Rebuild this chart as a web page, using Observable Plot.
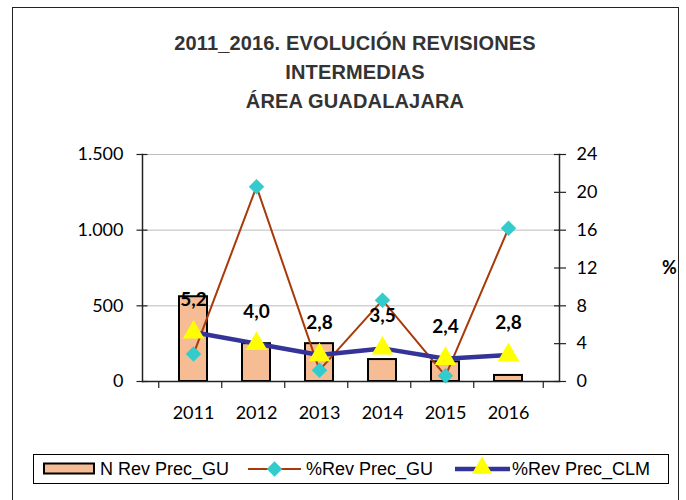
<!DOCTYPE html>
<html><head><meta charset="utf-8">
<script src="https://cdn.jsdelivr.net/npm/d3@7"></script>
<script src="https://cdn.jsdelivr.net/npm/@observablehq/plot@0.6"></script>
<style>
body{margin:0;background:#fff;}
#wrap{position:relative;width:686px;height:500px;overflow:hidden;background:#fff;}
#frame{position:absolute;left:12px;top:7px;width:667px;height:540px;border:1.5px solid #222;box-sizing:border-box;}
#title{position:absolute;left:155px;top:29px;width:400px;text-align:center;font:bold 20px "Liberation Sans",Arial,sans-serif;letter-spacing:0.15px;line-height:29px;color:#333;}
#chart{position:absolute;left:0;top:130px;}
#pct{position:absolute;left:662px;top:256px;font:bold 18px Lato,sans-serif;color:#000;}
#legend{position:absolute;left:33px;top:454px;width:636px;height:30px;border:1px solid #000;box-sizing:border-box;font:18px "Liberation Sans",Arial,sans-serif;color:#000;}
#legend .it{position:absolute;top:0;height:28px;line-height:28px;white-space:nowrap;}
#legend svg{position:absolute;top:0;}
</style></head>
<body>
<div id="wrap">
  <div id="frame"></div>
  <div id="title">2011_2016. EVOLUCIÓN REVISIONES<br>INTERMEDIAS<br>ÁREA GUADALAJARA</div>
  <div id="chart"></div>
  <div id="pct">%</div>
  <div id="legend"></div>
</div>
<script>
const years = ["2011","2012","2013","2014","2015","2016"];
const nRevPrecGU = [560, 250, 250, 145, 130, 40];
const pctRevPrecGU = [2.9, 20.6, 1.2, 8.6, 0.6, 16.2];
const pctRevPrecCLM = [5.2, 4.0, 2.8, 3.5, 2.4, 2.8];
const leftTicks = [0, 500, 1000, 1500];
const rightTicks = [0, 4, 8, 12, 16, 20, 24];
const seriesNames = ["N Rev Prec_GU", "%Rev Prec_GU", "%Rev Prec_CLM"];

const leftMax = 1500, rightMax = 24;
const k = leftMax / rightMax; // map right axis values onto left scale

const colors = {bar:"#F6BC94", brown:"#A83A0A", cyan:"#33CCCC", blue:"#333399", yellow:"#FFFF00"};

const esLocale = d3.formatLocale({decimal:",", thousands:".", grouping:[3], currency:["","€"]});
const fmtThousands = esLocale.format(",");
const fmtDec = esLocale.format(".1f");
const blank = () => "";

const rows = years.map((y, i) => ({year:y, n:nRevPrecGU[i], gu:pctRevPrecGU[i], clm:pctRevPrecCLM[i]}));

const W = 686, H = 300, mL = 142, mR = 127, mT = 24, mB = 49;
const step = (W - mL - mR) / years.length;

const plot = Plot.plot({
  width: W, height: H,
  marginLeft: mL, marginRight: mR, marginTop: mT, marginBottom: mB,
  style: {fontFamily: "Lato, sans-serif", fontSize: "18px", color: "#000", background: "transparent", overflow: "visible"},
  x: {type: "band", domain: years, padding: 0.56, align: 0.5, label: null, axis: null},
  y: {domain: [0, leftMax], label: null, axis: null},
  marks: [
    Plot.gridY(leftTicks.filter(d => d > 0), {stroke: "#bdbdbd", strokeOpacity: 1, strokeWidth: 1}),
    Plot.barY(rows, {x: "year", y: "n", fill: colors.bar, stroke: "#000", strokeWidth: 2}),
    Plot.ruleY([0], {stroke: "#222", strokeWidth: 1.5}),
    Plot.frame({anchor: "left", stroke: "#222", strokeWidth: 1.5}),
    Plot.frame({anchor: "right", stroke: "#222", strokeWidth: 1.5}),
    // left axis: ticks crossing the axis line, then labels
    Plot.axisY({ticks: leftTicks, tickSize: 11, dx: 5.5, tickFormat: blank, stroke: "#222", strokeWidth: 1.2}),
    Plot.axisY({ticks: leftTicks, tickSize: 0, tickPadding: 19, tickFormat: fmtThousands, fontSize: 18, fill: "#000"}),
    // right axis (percent)
    Plot.axisY({anchor: "right", ticks: rightTicks.map(d => d * k), tickSize: 12, dx: -6, tickFormat: blank, stroke: "#222", strokeWidth: 1.2}),
    Plot.axisY({anchor: "right", ticks: rightTicks.map(d => d * k), tickSize: 0, tickPadding: 17, tickFormat: d => String(Math.round(d / k)), fontSize: 18, fill: "#000"}),
    // x axis: ticks at category boundaries (below the baseline), labels at centers
    Plot.ruleX(years, {x: d => d, y1: 0, y2: 0, dx: -step / 2, insetBottom: -7, stroke: "#222", strokeWidth: 1.2}),
    Plot.ruleX(years.slice(-1), {x: d => d, y1: 0, y2: 0, dx: step / 2, insetBottom: -7, stroke: "#222", strokeWidth: 1.2}),
    Plot.axisX({ticks: years, tickSize: 0, tickPadding: 25, fontSize: 18, fill: "#000"}),
    // %Rev Prec_GU
    Plot.line(rows, {x: "year", y: d => d.gu * k, stroke: colors.brown, strokeWidth: 2}),
    Plot.dot(rows, {x: "year", y: d => d.gu * k, symbol: "diamond2", r: 7, fill: colors.cyan, stroke: "none"}),
    // %Rev Prec_CLM
    Plot.line(rows, {x: "year", y: d => d.clm * k, stroke: colors.blue, strokeWidth: 4.5}),
    Plot.dot(rows, {x: "year", y: d => d.clm * k, symbol: "triangle", r: 8, fill: colors.yellow, stroke: "none"}),
    Plot.text(rows, {x: "year", y: d => d.clm * k, text: d => fmtDec(d.clm), dy: -32, fontSize: 19, fontWeight: "bold", fill: "#000"})
  ]
});
document.getElementById("chart").appendChild(plot);

// legend
const lg = document.getElementById("legend");
function add(html){ lg.insertAdjacentHTML("beforeend", html); }
add(`<svg style="left:9px" width="52" height="28"><rect x="1" y="8.5" width="50" height="10" fill="${colors.bar}" stroke="#000" stroke-width="2"/></svg>`);
add(`<div class="it" style="left:66px">${seriesNames[0]}</div>`);
add(`<svg style="left:213px" width="55" height="28"><line x1="1" x2="54" y1="14" y2="14" stroke="${colors.brown}" stroke-width="2"/><path transform="translate(27.5,14)" d="${d3.symbol(d3.symbolDiamond2, 2*Math.PI*49/2)()}" fill="${colors.cyan}"/></svg>`);
add(`<div class="it" style="left:272px">${seriesNames[1]}</div>`);
add(`<svg style="left:420px" width="57" height="28"><line x1="1" x2="56" y1="14" y2="14" stroke="${colors.blue}" stroke-width="4.5"/><path transform="translate(28,13)" d="${d3.symbol(d3.symbolTriangle, Math.PI*56)()}" fill="${colors.yellow}"/></svg>`);
add(`<div class="it" style="left:478px">${seriesNames[2]}</div>`);
</script>
</body></html>
